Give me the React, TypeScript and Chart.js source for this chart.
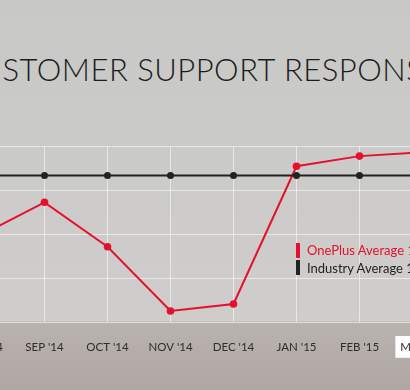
import React, { useEffect, useRef } from "react";
import { Chart, registerables } from "chart.js";

Chart.register(...registerables);

const months = ["AUG '14", "SEP '14", "OCT '14", "NOV '14", "DEC '14", "JAN '15", "FEB '15", "MAR '15"];
const onePlusValues = [1.98, 2.72, 1.71, 0.25, 0.41, 3.54, 3.77, 3.86];
const industryValues = [3.33, 3.33, 3.33, 3.33, 3.33, 3.33, 3.33, 3.33];
const yTicks = [0, 1, 2, 3, 4];
const titleText = "CUSTOMER SUPPORT RESPONSE TIME";
const legendLabels = ["OnePlus Average 1", "Industry Average 1"];
const highlightIndex = 7;

const RED = "#e5102d";
const DARK = "#222222";

export default function App() {
  const ref = useRef<HTMLCanvasElement | null>(null);

  useEffect(() => {
    if (!ref.current) return;
    const chart = new Chart(ref.current, {
      type: "line",
      data: {
        labels: months,
        datasets: [
          {
            label: legendLabels[1],
            data: industryValues,
            borderColor: DARK,
            backgroundColor: DARK,
            borderWidth: 2,
            pointRadius: 3.5,
            pointBorderWidth: 0,
            tension: 0,
          },
          {
            label: legendLabels[0],
            data: onePlusValues,
            borderColor: RED,
            backgroundColor: RED,
            borderWidth: 2,
            pointRadius: 3.8,
            pointBorderWidth: 0,
            tension: 0,
          },
        ],
      },
      options: {
        responsive: false,
        animation: false,
        layout: { padding: { top: 146, left: 0, right: 0, bottom: 0 } },
        plugins: { legend: { display: false }, title: { display: false }, tooltip: { enabled: false } },
        scales: {
          x: {
            offset: true,
            border: { display: false },
            grid: { color: "rgba(255,255,255,0.55)", lineWidth: 1, drawTicks: false },
            ticks: {
              color: "#2e2e2e",
              font: { family: "Lato", size: 11.5 },
              padding: 18,
              maxRotation: 0,
              autoSkip: false,
              showLabelBackdrop: (ctx: any) => ctx.index === highlightIndex,
              backdropColor: "#ffffff",
              backdropPadding: { x: 5, y: 4 },
            },
            afterFit: (scale: any) => {
              scale.height = 68;
              scale.paddingLeft = 0;
              scale.paddingRight = 0;
            },
          },
          y: {
            min: yTicks[0],
            max: yTicks[yTicks.length - 1],
            border: { display: false },
            grid: { color: "rgba(255,255,255,0.55)", lineWidth: 1, drawTicks: false },
            ticks: { display: false, stepSize: 1 },
            afterFit: (scale: any) => {
              scale.width = 0;
            },
          },
        },
      },
    });
    return () => chart.destroy();
  }, []);

  return (
    <div
      style={{
        position: "fixed",
        left: 0,
        top: 0,
        width: 410,
        height: 390,
        overflow: "hidden",
        background:
          "linear-gradient(to bottom, #c8c8c6 0px, #cecdcb 300px, #d0cdca 321px, #b9b2ae 322px, #aea7a3 390px)",
        fontFamily: "Lato, sans-serif",
      }}
    >
      <div
        style={{
          position: "absolute",
          left: -42,
          top: 50,
          whiteSpace: "nowrap",
          fontSize: 31,
          fontWeight: 300,
          color: "#1c1c1c",
          letterSpacing: 0.5,
          lineHeight: "38px",
        }}
      >
        {titleText}
      </div>
      <canvas
        ref={ref}
        width={512}
        height={390}
        style={{ position: "absolute", left: -54.5, top: 0, width: 512, height: 390 }}
      />
      <div style={{ position: "absolute", left: 296, top: 243, width: 4, height: 15, background: RED }} />
      <div style={{ position: "absolute", left: 296, top: 260, width: 4, height: 15, background: DARK }} />
      <div
        style={{
          position: "absolute",
          left: 307,
          top: 242,
          fontSize: 13,
          lineHeight: "17px",
          color: RED,
          whiteSpace: "nowrap",
        }}
      >
        {legendLabels[0]}
      </div>
      <div
        style={{
          position: "absolute",
          left: 307,
          top: 260,
          fontSize: 13,
          lineHeight: "17px",
          color: DARK,
          whiteSpace: "nowrap",
        }}
      >
        {legendLabels[1]}
      </div>
    </div>
  );
}
